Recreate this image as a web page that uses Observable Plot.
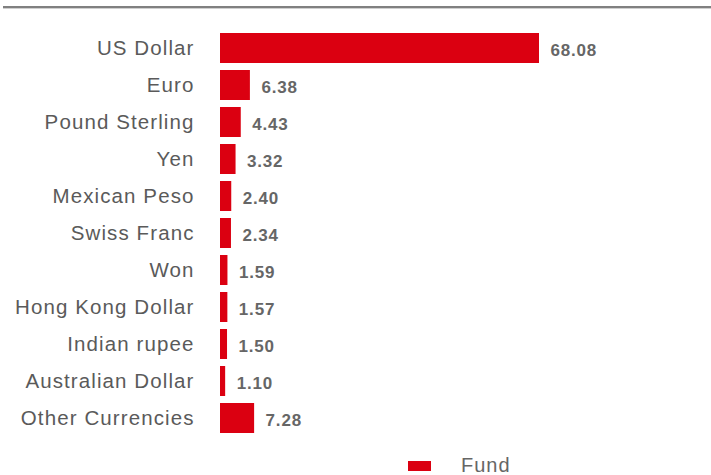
<!DOCTYPE html>
<html>
<head>
<meta charset="utf-8">
<script src="https://cdn.jsdelivr.net/npm/d3@7"></script>
<script src="https://cdn.jsdelivr.net/npm/@observablehq/plot@0.6"></script>
<style>
  html, body { margin: 0; padding: 0; background: #fff; overflow: hidden; }
  body { width: 711px; height: 475px; position: relative; font-family: "Liberation Sans", Arial, sans-serif; }
  #rule { position: absolute; left: 3px; right: 0; top: 6px; height: 0; border-top: 2px solid #808080; border-bottom: 1px solid #cfcfcf; }
  #head { height: 10px; }
  #legend { position: absolute; left: 0; top: 0; width: 711px; height: 475px; pointer-events: none; }
  #legend .sw { position: absolute; left: 408px; top: 461px; width: 23px; height: 10px; background: #db0011; }
  #legend .lb { position: absolute; left: 461px; top: 455px; font-size: 20px; line-height: 20px; color: #666; letter-spacing: 1px; }
</style>
</head>
<body>
<div id="head"><div id="rule"></div></div>
<div id="chart"></div>
<div id="legend"><div class="sw"></div><div class="lb">Fund</div></div>
<script>
const categories = ["US Dollar", "Euro", "Pound Sterling", "Yen", "Mexican Peso", "Swiss Franc", "Won", "Hong Kong Dollar", "Indian rupee", "Australian Dollar", "Other Currencies"];
const values = [68.08, 6.38, 4.43, 3.32, 2.40, 2.34, 1.59, 1.57, 1.50, 1.10, 7.28];
const seriesName = "Fund";

const data = categories.map((c, i) => ({category: c, value: values[i]}));

const chart = Plot.plot({
  width: 711,
  height: 440,
  marginTop: 12.5,
  marginBottom: 6.5,
  marginLeft: 220,
  marginRight: 172,
  style: {fontFamily: "'Liberation Sans', Arial, sans-serif", color: "#5a5a5a", background: "#fff"},
  x: {domain: [0, 68.08], axis: null},
  y: {domain: categories, padding: 0.2, label: null, axis: null},
  marks: [
    Plot.barX(data, {x: "value", y: "category", fill: "#db0011"}),
    Plot.text(data, {x: "value", y: "category", text: d => d.value.toFixed(2), dx: 11, dy: 2, textAnchor: "start", fill: "#666", fontSize: 17, fontWeight: "bold"}),
    Plot.axisY({tickSize: 0, tickPadding: 26, fontSize: 20.5, label: null})
  ]
});
chart.querySelectorAll("g[aria-label='y-axis tick label'] text").forEach(t => {
  t.style.letterSpacing = "1.1px";
});
chart.querySelectorAll("g[aria-label='text'] text").forEach(t => {
  t.style.letterSpacing = "0.8px";
});
document.getElementById("chart").appendChild(chart);
</script>
</body>
</html>
